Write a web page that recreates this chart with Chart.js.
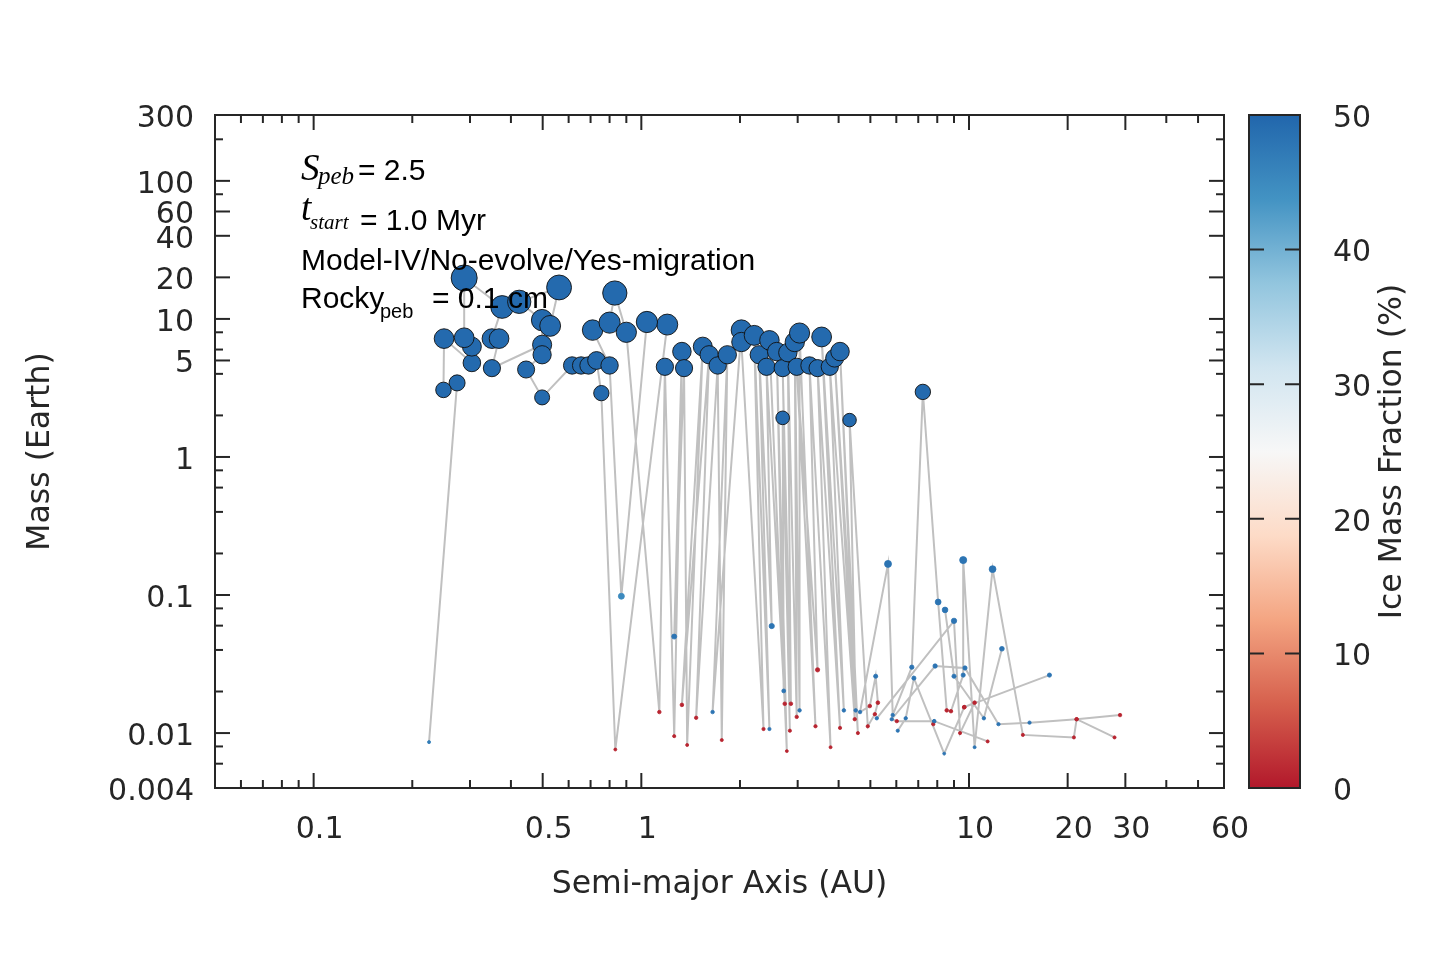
<!DOCTYPE html>
<html lang="en">
<head>
  <meta charset="UTF-8">
  <title>Mass vs Semi-major Axis</title>
  <style>
    body { margin: 0; background: #fff; }
    .wrap { position: relative; width: 1440px; height: 960px; }
    .wrap canvas { position: absolute; left: 0; top: 0; }
  </style>
</head>
<body>
  <div class="wrap">
    <canvas id="chart" width="1440" height="960"></canvas>
    <canvas id="cbar" width="1440" height="960"></canvas>
  </div>

  <script src="https://cdn.jsdelivr.net/npm/chart.js@4.4.1/dist/chart.umd.min.js"></script>
  <script>
    // planets in the order the grey track line joins them; null = break in the line
    const semiMajor = [
      0.225, 0.274, 0.249, 0.25, 0.304, 0.304, 0.288, 0.288, 0.376, 0.35, 0.368, 0.35,
      0.498, 0.498, 0.424, 0.561, 0.527, 0.498, 0.445, 0.498, 0.615, 0.655, 0.69, 0.73, 0.755,
      0.833, 1.20, 1.04, 0.869, 0.80, 0.71, 0.80, 0.83, 0.90,
      1.135, 1.18, 1.26, 1.33, 1.26, 1.35, 1.38, 1.54, 1.33, 1.61, 1.47, 1.71, 1.76, 1.83, 1.65,
      2.02, 2.02, 2.36, 2.21, 2.46, 2.29, 2.50, 2.41, 2.74, 2.46, 2.78, 2.59, 2.72, 2.70, 2.84,
      2.70, 2.86, 2.80, 2.98, 2.94, 3.04, 3.04, 3.40, 2.98, 3.45, 3.26, 3.78, 3.45, 4.04, 3.55,
      4.15, 3.76, 4.48, 3.89, 4.58, 4.04, 4.51, 4.32, 4.91, 5.16, 5.27, 5.19, 4.98, 4.65,
      5.66, 5.85, 6.69, 7.23, 8.05, 8.55, 8.81, 9.60, 9.60, 10.4, 11.8, 14.6, 20.9, 21.3, 27.8,
      null,
      28.9, 21.3, 15.3, 12.3, 9.72, 7.88, 5.81, 6.02, 7.83, 11.4,
      null,
      17.6, 9.67, 10.4, 9.39, 9.00, 5.23,
      null,
      12.6, 11.1, 9.00, 8.45,
      null,
      6.06, 6.41, 6.79, 8.40, 9.67,
      null,
      7.78, 7.83
    ];
    const mass = [
      0.0086, 3.44, 3.06, 7.2, 4.8, 6.3, 7.3, 19.8, 12.2, 7.2, 7.2, 4.4,
      6.5, 9.8, 13.3, 16.9, 8.9, 5.5, 4.3, 2.7, 4.6, 4.6, 4.6, 5.0, 2.9,
      0.0076, 9.1, 9.5, 0.098, 4.6, 8.3, 9.4, 15.4, 8.0,
      0.0142, 4.5, 0.0095, 5.8, 0.050, 4.4, 0.0082, 6.3, 0.016, 5.5, 0.0129, 4.6, 0.0089, 5.5, 0.0142,
      8.3, 6.8, 0.0107, 7.6, 0.0107, 5.5, 0.0596, 4.5, 0.0163, 7.0, 0.0074, 5.8, 0.0202, 1.92, 0.0104,
      4.4, 0.0163, 5.7, 0.0131, 6.8, 0.0146, 7.9, 0.0112, 4.5, 0.0287, 4.6, 0.0079, 4.4, 0.0109, 7.4,
      0.0146, 4.5, 0.0126, 5.2, 0.0100, 5.8, 0.0146, 1.85, 0.0112, 0.0137, 0.0166, 0.0258, 0.0157, 0.0142,
      0.168, 0.0135, 0.030, 2.96, 0.089, 0.0146, 0.0144, 0.0263, 0.179, 0.0079, 0.154, 0.0097, 0.0093, 0.0126, 0.0093,
      null,
      0.0135, 0.0126, 0.0119, 0.0116, 0.0296, 0.0306, 0.0126, 0.0122, 0.0122, 0.0087,
      null,
      0.0263, 0.0154, 0.0166, 0.0100, 0.065, 0.0128,
      null,
      0.0408, 0.0128, 0.0258, 0.078,
      null,
      0.0104, 0.0128, 0.025, 0.0071, 0.0154,
      null,
      0.0116, 0.0122
    ];
    const iceFrac = [
      47, 49.5, 49.5, 49.5, 49.5, 49.5, 49.5, 49.5, 49.5, 49.5, 49.5, 49.5,
      49.5, 49.5, 49.5, 49.5, 49.5, 49.5, 49.5, 49.5, 49.5, 49.5, 49.5, 49.5, 49.5,
      1, 49.5, 49.5, 45, 49.5, 49.5, 49.5, 49.5, 49.5,
      1, 49.5, 1, 49.5, 48, 49.5, 1, 49.5, 1, 49.5, 1, 49.5, 1, 49.5, 48,
      49.5, 49.5, 1, 49.5, 48, 49.5, 48, 49.5, 1, 49.5, 1, 49.5, 48, 49.5, 1,
      49.5, 1, 49.5, 1, 49.5, 48, 49.5, 1, 49.5, 1, 49.5, 1, 49.5, 1, 49.5,
      48, 49.5, 1, 49.5, 1, 49.5, 48, 49.5, 1, 1, 1, 48, 1, 48,
      48, 48, 48, 49.5, 48, 1, 1, 48, 48, 48, 48, 1, 1, 1, 1,
      null,
      1, 1, 48, 48, 48, 48, 48, 1, 48, 1,
      null,
      48, 1, 1, 1, 48, 48,
      null,
      48, 48, 48, 48,
      null,
      48, 48, 48, 48, 1,
      null,
      1, 48
    ];

    const xTickVals = [0.1, 0.5, 1, 10, 20, 30, 60];
    const xTickText = ['0.1', '0.5', '1', '10', '20', '30', '60'];
    const xMinor = [0.06, 0.07, 0.08, 0.09, 0.2, 0.3, 0.4, 0.6, 0.7, 0.8, 0.9, 2, 3, 4, 5, 6, 7, 8, 9, 40, 50];
    const yTickVals = [0.004, 0.01, 0.1, 1, 5, 10, 20, 40, 60, 100, 300];
    const yTickText = ['0.004', '0.01', '0.1', '1', '5', '10', '20', '40', '60', '100', '300'];
    const yMinor = [0.006, 0.008, 0.02, 0.04, 0.06, 0.08, 0.2, 0.4, 0.6, 0.8, 2, 4, 6, 8, 80, 200];
    const cbarTicks = [0, 10, 20, 30, 40, 50];

    const rdbu = ['#b2182b', '#d6604d', '#f4a582', '#fddbc7', '#f7f7f7', '#d1e5f0', '#92c5de', '#4393c3', '#2166ac'];
    const ink = '#262626';
    const axisFont = { family: 'DejaVu Sans', size: 30 };
    const titleFont = { family: 'DejaVu Sans', size: 31.5 };

    function hexRgb(h) {
      return [parseInt(h.slice(1, 3), 16), parseInt(h.slice(3, 5), 16), parseInt(h.slice(5, 7), 16)];
    }
    function iceColor(v) {
      const t = Math.min(1, Math.max(0, v / 50)) * (rdbu.length - 1);
      const i = Math.min(rdbu.length - 2, Math.floor(t));
      const f = t - i;
      const a = hexRgb(rdbu[i]), b = hexRgb(rdbu[i + 1]);
      const c = a.map((q, k) => Math.round(q + (b[k] - q) * f));
      return 'rgb(' + c.join(',') + ')';
    }
    function radiusFor(m) {
      return m ? 1.6 * Math.pow(m / 0.01, 0.276) : 0;
    }

    const frameTicks = {
      id: 'frameTicks',
      afterDraw(chart) {
        const { ctx, chartArea: a, scales: { x, y } } = chart;
        ctx.save();
        ctx.strokeStyle = ink;
        ctx.lineWidth = 2;
        const seg = (x1, y1, x2, y2) => { ctx.beginPath(); ctx.moveTo(x1, y1); ctx.lineTo(x2, y2); ctx.stroke(); };
        const xt = (v, len) => { const p = x.getPixelForValue(v); seg(p, a.bottom, p, a.bottom - len); seg(p, a.top, p, a.top + len); };
        const yt = (v, len) => { const p = y.getPixelForValue(v); seg(a.left, p, a.left + len, p); seg(a.right, p, a.right - len, p); };
        xTickVals.forEach(v => xt(v, 15));
        xMinor.forEach(v => xt(v, 8));
        yTickVals.forEach(v => yt(v, 15));
        yMinor.forEach(v => yt(v, 8));
        ctx.strokeRect(a.left, a.top, a.right - a.left, a.bottom - a.top);
        ctx.restore();
      }
    };

    const notes = {
      id: 'notes',
      afterDatasetsDraw(chart) {
        const ctx = chart.ctx;
        ctx.save();
        ctx.fillStyle = '#000';
        ctx.textAlign = 'left';
        ctx.textBaseline = 'alphabetic';
        const serifBig = 'italic 37px "Liberation Serif"';
        const sans = '30px "Liberation Sans"';
        const put = (t, f, px, py) => { ctx.font = f; ctx.fillText(t, px, py); };
        put('S', serifBig, 301, 180);
        put('peb', 'italic 25px "Liberation Serif"', 318, 184);
        put('= 2.5', sans, 358, 180);
        put('t', serifBig, 301, 220);
        put('start', 'italic 21px "Liberation Serif"', 310, 229);
        put('= 1.0 Myr', sans, 360, 230);
        put('Model-IV/No-evolve/Yes-migration', sans, 301, 270);
        put('Rocky', sans, 301, 308);
        put('peb', '20px "Liberation Sans"', 380, 318);
        put('= 0.1 cm', sans, 432, 308);
        ctx.restore();
      }
    };

    const points = semiMajor.map((a, i) => ({ x: a, y: mass[i] }));

    new Chart(document.getElementById('chart'), {
      type: 'scatter',
      data: {
        datasets: [{
          data: points,
          showLine: true,
          spanGaps: false,
          borderColor: '#c0c0c0',
          borderWidth: 2,
          pointRadius: c => radiusFor(mass[c.dataIndex]),
          pointHoverRadius: c => radiusFor(mass[c.dataIndex]),
          pointBackgroundColor: c => iceColor(iceFrac[c.dataIndex]),
          pointBorderColor: c => (mass[c.dataIndex] > 0.5 ? '#111' : iceColor(iceFrac[c.dataIndex])),
          pointBorderWidth: c => (mass[c.dataIndex] > 0.5 ? 0.9 : 0.8)
        }]
      },
      options: {
        responsive: false,
        animation: false,
        events: [],
        layout: { padding: { left: 0, top: 115, right: 216, bottom: 0 } },
        plugins: { legend: { display: false }, tooltip: { enabled: false } },
        scales: {
          x: {
            type: 'logarithmic',
            min: 0.05,
            max: 60,
            afterBuildTicks: s => { s.ticks = xTickVals.map(v => ({ value: v })); },
            afterFit: s => { s.height = 172; },
            grid: { display: false, drawTicks: false },
            border: { display: false },
            ticks: { autoSkip: false, maxRotation: 0, padding: 24, labelOffset: 6, color: ink, font: axisFont,
              callback: (v, i) => xTickText[i] },
            title: { display: true, text: 'Semi-major Axis (AU)', color: ink, font: titleFont,
              padding: { top: 0, bottom: 56 } }
          },
          y: {
            type: 'logarithmic',
            min: 0.004,
            max: 300,
            afterBuildTicks: s => { s.ticks = yTickVals.map(v => ({ value: v })); },
            afterFit: s => { s.width = 215; },
            grid: { display: false, drawTicks: false },
            border: { display: false },
            ticks: { autoSkip: false, padding: 21, labelOffset: 4, color: ink, font: axisFont,
              callback: (v, i) => yTickText[i] },
            title: { display: true, text: 'Mass (Earth)', color: ink, font: titleFont,
              padding: { top: 22, bottom: 0 } }
          }
        }
      },
      plugins: [frameTicks, notes]
    });

    const cbarDeco = {
      id: 'cbarDeco',
      afterDraw(chart) {
        const { ctx, chartArea: a, scales: { y } } = chart;
        ctx.save();
        ctx.strokeStyle = ink;
        ctx.lineWidth = 2;
        cbarTicks.forEach(v => {
          const p = y.getPixelForValue(v);
          ctx.beginPath();
          ctx.moveTo(a.left, p); ctx.lineTo(a.left + 15, p);
          ctx.moveTo(a.right, p); ctx.lineTo(a.right - 15, p);
          ctx.stroke();
        });
        ctx.strokeRect(a.left, a.top, a.right - a.left, a.bottom - a.top);
        ctx.translate(1393, (a.top + a.bottom) / 2);
        ctx.rotate(-Math.PI / 2);
        ctx.fillStyle = ink;
        ctx.font = '31.5px "DejaVu Sans"';
        ctx.textAlign = 'center';
        ctx.textBaseline = 'middle';
        ctx.fillText('Ice Mass Fraction (%)', 0, 0);
        ctx.restore();
      }
    };

    new Chart(document.getElementById('cbar'), {
      type: 'bar',
      data: {
        labels: [''],
        datasets: [{
          data: [[cbarTicks[0], cbarTicks[cbarTicks.length - 1]]],
          barPercentage: 1,
          categoryPercentage: 1,
          borderWidth: 0,
          backgroundColor: c => {
            const area = c.chart.chartArea;
            if (!area) return rdbu[0];
            const g = c.chart.ctx.createLinearGradient(0, area.bottom, 0, area.top);
            rdbu.forEach((col, i) => g.addColorStop(i / (rdbu.length - 1), col));
            return g;
          }
        }]
      },
      options: {
        responsive: false,
        animation: false,
        events: [],
        layout: { padding: { left: 1249, top: 115, right: 0, bottom: 172 } },
        plugins: { legend: { display: false }, tooltip: { enabled: false } },
        scales: {
          x: { display: false },
          y: {
            position: 'right',
            min: 0,
            max: 50,
            afterBuildTicks: s => { s.ticks = cbarTicks.map(v => ({ value: v })); },
            afterFit: s => { s.width = 140; },
            grid: { display: false, drawTicks: false },
            border: { display: false },
            ticks: { autoSkip: false, padding: 33, labelOffset: 4, color: ink, font: axisFont }
          }
        }
      },
      plugins: [cbarDeco]
    });
  </script>
</body>
</html>
